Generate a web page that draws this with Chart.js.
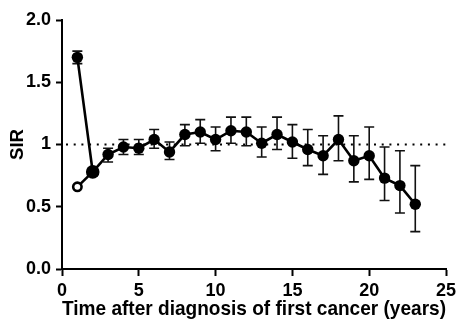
<!DOCTYPE html>
<html><head><meta charset="utf-8">
<script src="https://cdn.jsdelivr.net/npm/chart.js@4/dist/chart.umd.min.js"></script>
<style>html,body{margin:0;padding:0;background:#fff}#wrap{width:468px;height:322px}</style>
</head><body><div id="wrap"><canvas id="c" width="468" height="322"></canvas></div>
<script>
const years = [1,2,3,4,5,6,7,8,9,10,11,12,13,14,15,16,17,18,19,20,21,22,23];
const sir   = [1.70,0.78,0.92,0.98,0.97,1.04,0.94,1.08,1.10,1.04,1.11,1.10,1.01,1.08,1.02,0.96,0.91,1.04,0.87,0.91,0.73,0.67,0.52];
const lower = [1.65,0.75,0.86,0.92,0.92,0.97,0.88,0.99,1.01,0.95,1.01,0.99,0.90,0.96,0.89,0.83,0.76,0.87,0.70,0.72,0.55,0.45,0.30];
const upper = [1.75,0.81,0.97,1.04,1.04,1.12,1.02,1.16,1.20,1.14,1.22,1.22,1.14,1.22,1.16,1.12,1.07,1.23,1.07,1.14,0.98,0.95,0.83];
const openYears = [1,2];
const openSir = [0.66,0.78];
const refLine = 1;
const xTicks = [0,5,10,15,20,25];
const yTickLabels = {"0":"0.0","0.5":"0.5","1":"1","1.5":"1.5","2":"2.0"};

const FONT = "'Liberation Sans', Arial, sans-serif";

const errPlugin = {
  id: 'err',
  beforeDatasetsDraw(chart) {
    const {ctx, scales:{x, y}} = chart;
    ctx.save();
    ctx.strokeStyle = '#000';
    ctx.lineWidth = 2;
    ctx.setLineDash([2, 5.7]);
    const yy = y.getPixelForValue(refLine);
    ctx.beginPath();
    ctx.moveTo(x.getPixelForValue(0) + 4, yy);
    ctx.lineTo(x.getPixelForValue(25), yy);
    ctx.stroke();
    ctx.setLineDash([]);
    ctx.strokeStyle = '#111';
    ctx.lineWidth = 1.6;
    years.forEach((yr, i) => {
      const px = x.getPixelForValue(yr);
      const pl = y.getPixelForValue(lower[i]);
      const pu = y.getPixelForValue(upper[i]);
      ctx.beginPath();
      ctx.moveTo(px, pl); ctx.lineTo(px, pu);
      ctx.moveTo(px - 5, pl); ctx.lineTo(px + 5, pl);
      ctx.moveTo(px - 5, pu); ctx.lineTo(px + 5, pu);
      ctx.stroke();
    });
    ctx.restore();
  }
};

new Chart(document.getElementById('c'), {
  type: 'line',
  data: {
    datasets: [
      {
        data: openYears.map((v, i) => ({x: v, y: openSir[i]})),
        borderColor: '#000', borderWidth: 2.6,
        pointRadius: [4.2, 0], pointBorderWidth: 2.6,
        pointBackgroundColor: '#fff', pointBorderColor: '#000',
        order: 1
      },
      {
        data: years.map((v, i) => ({x: v, y: sir[i]})),
        borderColor: '#000', borderWidth: 2.6,
        pointRadius: years.map((v, i) => i === 1 ? 6.8 : 5.7),
        pointBorderWidth: 0,
        pointBackgroundColor: '#000', pointBorderColor: '#000',
        order: 0
      }
    ]
  },
  options: {
    responsive: false,
    animation: false,
    events: [],
    layout: {padding: {top: 20, right: 22, left: 0, bottom: 0}},
    plugins: {legend: {display: false}, tooltip: {enabled: false}},
    scales: {
      x: {
        type: 'linear', min: 0, max: 25,
        afterBuildTicks(s) { s.ticks = xTicks.map(v => ({value: v})); },
        afterFit(s) { s.height = 53; },
        grid: {drawOnChartArea: false, drawTicks: true, tickLength: 7, tickColor: '#000', tickWidth: 2},
        border: {display: true, color: '#000', width: 2},
        ticks: {color: '#000', padding: 4, maxRotation: 0, font: {family: FONT, size: 18, weight: 'bold'}},
        title: {display: true, text: 'Time after diagnosis of first cancer (years)', color: '#000',
                padding: {top: 0, bottom: 0}, font: {family: FONT, size: 20.5, weight: 'bold'}}
      },
      y: {
        type: 'linear', min: 0, max: 2,
        afterBuildTicks(s) { s.ticks = Object.keys(yTickLabels).map(k => ({value: parseFloat(k)})); },
        afterFit(s) { s.width = 62; },
        grid: {drawOnChartArea: false, drawTicks: true, tickLength: 6, tickColor: '#000', tickWidth: 2},
        border: {display: true, color: '#000', width: 2},
        ticks: {color: '#000', padding: 5,
                callback: v => yTickLabels[String(v)] ?? '',
                font: {family: FONT, size: 18, weight: 'bold'}},
        title: {display: true, text: 'SIR', color: '#000', padding: {top: 7, bottom: 4},
                font: {family: FONT, size: 18.6, weight: 'bold'}}
      }
    }
  },
  plugins: [errPlugin]
});
</script></body></html>
